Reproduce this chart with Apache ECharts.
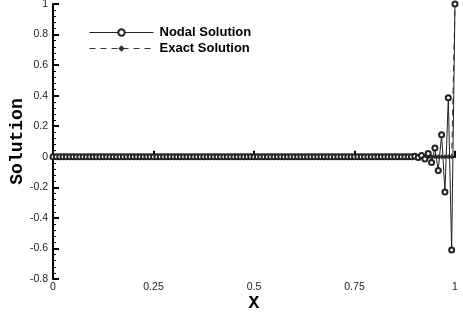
<!DOCTYPE html>
<html>
<head>
<meta charset="utf-8">
<script src="https://cdn.jsdelivr.net/npm/echarts@6/dist/echarts.min.js"></script>
<style>
  html, body { margin: 0; padding: 0; background: #fff; }
  #chart { width: 463px; height: 320px; }
</style>
</head>
<body>
<div id="chart"></div>
<script>
// Uniform mesh on [0, 1] with 120 elements (121 nodes)
const elementCount = 120;

// Nodal solution: zero over most of the domain, oscillating in the boundary layer near x = 1
const nodalTail = [0.003, -0.005, 0.009, -0.014, 0.022, -0.037, 0.057, -0.09, 0.145, -0.23, 0.386, -0.61, 1.0];
const nodalValues = new Array(elementCount + 1 - nodalTail.length).fill(0).concat(nodalTail);

// Exact solution: zero everywhere except the boundary value at x = 1
const exactTail = [0, 1.0];
const exactValues = new Array(elementCount + 1 - exactTail.length).fill(0).concat(exactTail);

const seriesNames = ['Nodal Solution', 'Exact Solution'];
const xTicks = { min: 0, max: 1, interval: 0.25 };
const yTicks = { min: -0.8, max: 1, interval: 0.2 };

const nodes = nodalValues.map((_, i) => i / elementCount);
const nodalData = nodes.map((x, i) => [x, nodalValues[i]]);
const exactData = nodes.map((x, i) => [x, exactValues[i]]);

const chart = echarts.init(document.getElementById('chart'), null, { renderer: 'canvas' });

const tickFont = { fontFamily: 'Liberation Sans, Arial, sans-serif', fontSize: 10.5, color: '#222' };
const titleFont = { fontFamily: 'Liberation Mono, Courier New, monospace', fontWeight: 'bold', fontSize: 18, color: '#000' };

chart.setOption({
  animation: false,
  backgroundColor: '#fff',
  grid: { left: 53, right: 8, top: 4, bottom: 41, containLabel: false, outerBoundsMode: 'none' },
  legend: {
    orient: 'vertical',
    left: 84,
    top: 21,
    itemWidth: 64,
    itemHeight: 8,
    itemGap: 3,
    lineStyle: { width: 1 },
    textStyle: {
      fontFamily: 'Liberation Sans, Arial, sans-serif',
      fontWeight: 'bold',
      fontSize: 13,
      color: '#000',
      padding: [0, 0, 0, 1]
    },
    data: seriesNames
  },
  xAxis: {
    type: 'value',
    min: xTicks.min,
    max: xTicks.max,
    interval: xTicks.interval,
    name: 'X',
    nameLocation: 'middle',
    nameGap: 15,
    nameMoveOverlap: false,
    nameTextStyle: titleFont,
    axisLine: { show: true, lineStyle: { color: '#000', width: 2 } },
    axisTick: { show: true, inside: true, length: 6, lineStyle: { color: '#000', width: 2 } },
    minorTick: { show: true, splitNumber: 5, length: 3, lineStyle: { color: '#000', width: 1 } },
    splitLine: { show: false },
    axisLabel: Object.assign({ margin: 3, formatter: v => String(v) }, tickFont)
  },
  yAxis: {
    type: 'value',
    min: yTicks.min,
    max: yTicks.max,
    interval: yTicks.interval,
    name: 'Solution',
    nameLocation: 'middle',
    nameGap: 27,
    nameMoveOverlap: false,
    nameTextStyle: titleFont,
    axisLine: { show: true, lineStyle: { color: '#000', width: 2 } },
    axisTick: { show: true, inside: true, length: 6, lineStyle: { color: '#000', width: 2 } },
    minorTick: { show: true, splitNumber: 5, length: 3, lineStyle: { color: '#000', width: 1 } },
    splitLine: { show: false },
    axisLabel: Object.assign({ margin: 5, formatter: v => String(Math.round(v * 10) / 10) }, tickFont)
  },
  series: [
    {
      name: seriesNames[0],
      type: 'line',
      data: nodalData,
      symbol: 'emptyCircle',
      symbolSize: 5,
      showAllSymbol: true,
      lineStyle: { color: '#222', width: 1 },
      itemStyle: { color: '#222', borderColor: '#222', borderWidth: 1.2 },
      z: 3
    },
    {
      name: seriesNames[1],
      type: 'line',
      data: exactData,
      symbol: 'diamond',
      symbolSize: 5,
      showAllSymbol: true,
      lineStyle: { color: '#333', width: 1, type: [6, 5] },
      itemStyle: { color: '#333' },
      z: 2
    }
  ]
});
</script>
</body>
</html>
